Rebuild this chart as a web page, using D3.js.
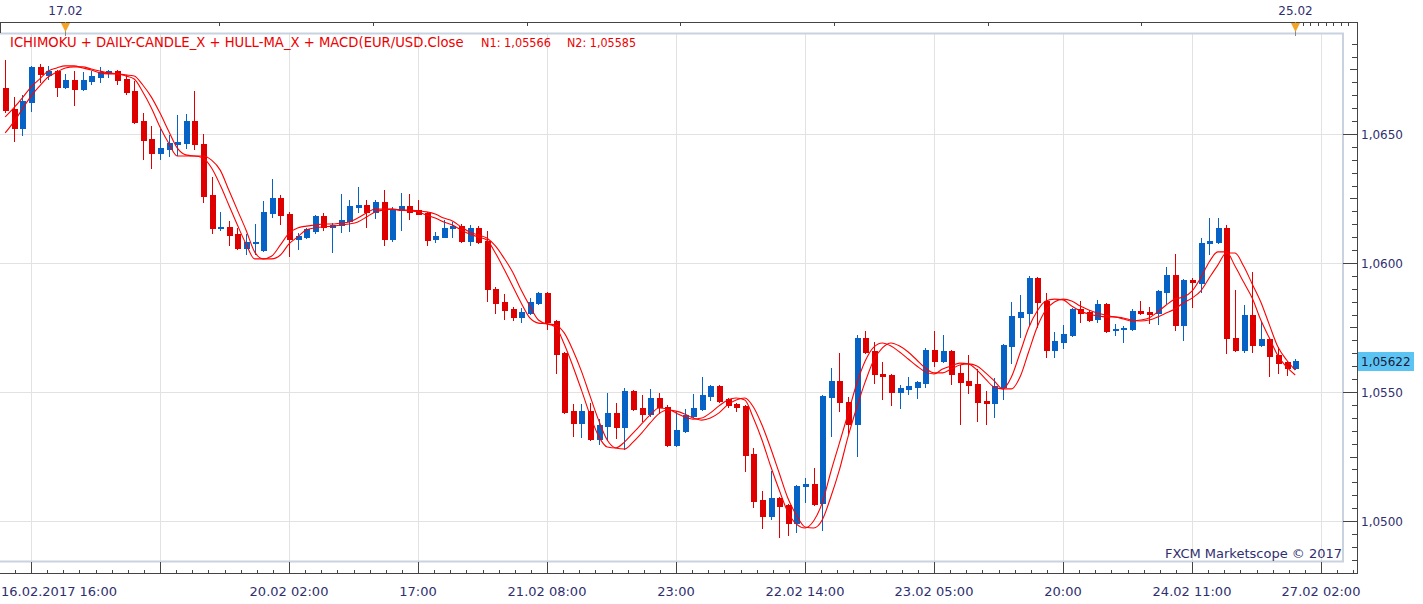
<!DOCTYPE html>
<html><head><meta charset="utf-8">
<script src="https://cdn.jsdelivr.net/npm/d3@7"></script>
<style>
body{margin:0;background:#fff;}
svg{display:block;font-family:"DejaVu Sans",Verdana,sans-serif;}
</style>
</head><body>
<svg id="c" width="1423" height="604"></svg>
<script>
// ---- data (EUR/USD hourly) ----
const open=[1.06678,1.06597,1.06523,1.06624,1.06760,1.06729,1.06744,1.06682,1.06709,1.06674,
1.06705,1.06721,1.06737,1.06744,1.06713,1.06667,1.06550,1.06481,1.06426,1.06442,
1.06461,1.06465,1.06550,1.06461,1.06264,1.06136,1.06140,1.06112,1.06058,1.06078,
1.06050,1.06194,1.06252,1.06190,1.06093,1.06101,1.06124,1.06182,1.06140,1.06147,
1.06163,1.06217,1.06225,1.06198,1.06236,1.06093,1.06205,1.06221,1.06205,1.06194,
1.06093,1.06101,1.06136,1.06143,1.06085,1.06136,1.06085,1.05899,1.05849,1.05822,
1.05791,1.05806,1.05845,1.05884,1.05775,1.05651,1.05426,1.05380,1.05426,1.05318,
1.05368,1.05419,1.05364,1.05504,1.05438,1.05415,1.05477,1.05442,1.05295,1.05349,
1.05407,1.05434,1.05485,1.05523,1.05473,1.05453,1.05446,1.05260,1.05081,1.05019,
1.05089,1.05062,1.04992,1.05136,1.05143,1.05070,1.05481,1.05543,1.05461,1.05376,
1.05709,1.05659,1.05570,1.05566,1.05500,1.05512,1.05519,1.05535,1.05663,1.05620,
1.05659,1.05574,1.05543,1.05531,1.05465,1.05457,1.05519,1.05678,1.05791,1.05806,
1.05942,1.05853,1.05663,1.05694,1.05721,1.05822,1.05810,1.05783,1.05841,1.05740,
1.05744,1.05744,1.05814,1.05810,1.05806,1.05888,1.05953,1.05760,1.05934,1.05922,
1.06078,1.06081,1.06136,1.05709,1.05663,1.05798,1.05682,1.05705,1.05643,1.05616,
1.05593];
const high=[1.06787,1.06643,1.06651,1.06764,1.06771,1.06764,1.06748,1.06733,1.06744,1.06740,
1.06744,1.06760,1.06748,1.06748,1.06729,1.06705,1.06581,1.06531,1.06519,1.06496,
1.06574,1.06578,1.06667,1.06500,1.06333,1.06198,1.06163,1.06136,1.06112,1.06151,
1.06240,1.06326,1.06264,1.06198,1.06116,1.06136,1.06186,1.06194,1.06155,1.06267,
1.06244,1.06295,1.06244,1.06244,1.06283,1.06217,1.06271,1.06267,1.06244,1.06198,
1.06120,1.06167,1.06159,1.06151,1.06147,1.06143,1.06124,1.05907,1.05880,1.05829,
1.05826,1.05864,1.05888,1.05888,1.05779,1.05655,1.05453,1.05453,1.05457,1.05395,
1.05496,1.05457,1.05516,1.05508,1.05488,1.05512,1.05496,1.05450,1.05426,1.05434,
1.05492,1.05558,1.05527,1.05527,1.05477,1.05457,1.05450,1.05283,1.05116,1.05194,
1.05093,1.05066,1.05140,1.05167,1.05205,1.05488,1.05593,1.05651,1.05481,1.05721,
1.05736,1.05694,1.05616,1.05570,1.05527,1.05558,1.05543,1.05671,1.05736,1.05721,
1.05663,1.05605,1.05643,1.05589,1.05504,1.05554,1.05686,1.05849,1.05876,1.05950,
1.05946,1.05884,1.05733,1.05760,1.05826,1.05853,1.05818,1.05857,1.05845,1.05764,
1.05756,1.05822,1.05853,1.05829,1.05895,1.05984,1.06035,1.05938,1.05942,1.06097,
1.06174,1.06174,1.06147,1.05895,1.05837,1.05965,1.05771,1.05709,1.05674,1.05620,
1.05628];
const low=[1.06585,1.06473,1.06496,1.06589,1.06702,1.06713,1.06647,1.06678,1.06612,1.06671,
1.06694,1.06702,1.06721,1.06694,1.06655,1.06543,1.06403,1.06368,1.06403,1.06415,
1.06419,1.06446,1.06442,1.06236,1.06116,1.06128,1.06070,1.06054,1.06035,1.06035,
1.06046,1.06178,1.06151,1.06027,1.06054,1.06097,1.06116,1.06128,1.06043,1.06120,
1.06124,1.06198,1.06140,1.06174,1.06070,1.06085,1.06128,1.06171,1.06190,1.06070,
1.06081,1.06101,1.06101,1.06081,1.06070,1.06078,1.05853,1.05806,1.05783,1.05779,
1.05771,1.05802,1.05841,1.05744,1.05574,1.05419,1.05329,1.05326,1.05314,1.05298,
1.05314,1.05322,1.05279,1.05430,1.05388,1.05407,1.05419,1.05291,1.05291,1.05345,
1.05403,1.05430,1.05469,1.05461,1.05442,1.05426,1.05194,1.05054,1.04973,1.05008,
1.04938,1.04946,1.04957,1.05074,1.05062,1.04965,1.05329,1.05426,1.05341,1.05252,
1.05651,1.05535,1.05473,1.05450,1.05438,1.05492,1.05477,1.05519,1.05601,1.05616,
1.05531,1.05376,1.05496,1.05388,1.05376,1.05403,1.05473,1.05612,1.05713,1.05760,
1.05752,1.05636,1.05636,1.05671,1.05717,1.05771,1.05775,1.05771,1.05733,1.05721,
1.05694,1.05740,1.05802,1.05767,1.05764,1.05845,1.05740,1.05702,1.05829,1.05888,
1.06035,1.06077,1.05651,1.05659,1.05655,1.05655,1.05678,1.05562,1.05574,1.05566,
1.05589];
const close=[1.06593,1.06523,1.06628,1.06760,1.06733,1.06744,1.06682,1.06709,1.06674,1.06709,
1.06725,1.06740,1.06744,1.06709,1.06663,1.06547,1.06477,1.06426,1.06446,1.06465,
1.06469,1.06550,1.06461,1.06260,1.06136,1.06140,1.06109,1.06058,1.06081,1.06081,
1.06198,1.06252,1.06186,1.06093,1.06105,1.06132,1.06182,1.06140,1.06147,1.06167,
1.06221,1.06225,1.06198,1.06236,1.06093,1.06209,1.06221,1.06198,1.06190,1.06089,
1.06105,1.06136,1.06143,1.06085,1.06136,1.06081,1.05899,1.05845,1.05818,1.05791,
1.05810,1.05849,1.05884,1.05771,1.05647,1.05422,1.05380,1.05426,1.05318,1.05372,
1.05419,1.05364,1.05504,1.05434,1.05415,1.05477,1.05442,1.05295,1.05353,1.05411,
1.05438,1.05488,1.05523,1.05465,1.05450,1.05442,1.05256,1.05078,1.05019,1.05089,
1.05058,1.04992,1.05136,1.05143,1.05066,1.05485,1.05543,1.05461,1.05376,1.05709,
1.05655,1.05570,1.05562,1.05500,1.05516,1.05523,1.05539,1.05663,1.05620,1.05659,
1.05570,1.05539,1.05527,1.05461,1.05457,1.05523,1.05682,1.05795,1.05810,1.05942,
1.05849,1.05663,1.05698,1.05725,1.05822,1.05806,1.05779,1.05841,1.05736,1.05744,
1.05748,1.05814,1.05806,1.05802,1.05891,1.05953,1.05760,1.05934,1.05926,1.06078,
1.06085,1.06136,1.05709,1.05663,1.05798,1.05682,1.05705,1.05640,1.05612,1.05593,
1.05622];
// Hull MA lines
const hullN1=[1.06566,1.06601,1.06640,1.06682,1.06713,1.06744,1.06756,1.06764,1.06764,1.06756,
1.06748,1.06737,1.06733,1.06733,1.06725,1.06713,1.06663,1.06601,1.06527,1.06465,
1.06415,1.06415,1.06415,1.06407,1.06368,1.06302,1.06225,1.06147,1.06074,1.06016,
1.06016,1.06027,1.06070,1.06116,1.06136,1.06143,1.06147,1.06151,1.06151,1.06155,
1.06159,1.06174,1.06194,1.06209,1.06209,1.06209,1.06205,1.06202,1.06198,1.06186,
1.06174,1.06159,1.06147,1.06128,1.06112,1.06101,1.06089,1.06039,1.05977,1.05911,
1.05845,1.05787,1.05767,1.05764,1.05752,1.05686,1.05601,1.05508,1.05411,1.05329,
1.05287,1.05283,1.05306,1.05341,1.05376,1.05411,1.05438,1.05434,1.05419,1.05403,
1.05395,1.05399,1.05419,1.05446,1.05469,1.05477,1.05469,1.05399,1.05314,1.05213,
1.05120,1.05035,1.04988,1.04973,1.05000,1.05070,1.05190,1.05302,1.05415,1.05531,
1.05620,1.05674,1.05690,1.05678,1.05655,1.05628,1.05601,1.05578,1.05570,1.05589,
1.05601,1.05612,1.05609,1.05585,1.05550,1.05519,1.05512,1.05558,1.05651,1.05748,
1.05814,1.05853,1.05860,1.05857,1.05833,1.05814,1.05802,1.05795,1.05791,1.05791,
1.05783,1.05775,1.05779,1.05787,1.05810,1.05837,1.05860,1.05868,1.05891,1.05942,
1.06004,1.06043,1.06043,1.05988,1.05926,1.05864,1.05779,1.05709,1.05640,1.05597,
1.05566];
const hullN2=[1.06504,1.06547,1.06597,1.06647,1.06686,1.06721,1.06740,1.06756,1.06760,1.06760,
1.06752,1.06744,1.06737,1.06733,1.06729,1.06725,1.06690,1.06643,1.06581,1.06512,
1.06446,1.06419,1.06415,1.06415,1.06399,1.06360,1.06283,1.06205,1.06128,1.06043,
1.06016,1.06016,1.06031,1.06074,1.06101,1.06128,1.06136,1.06140,1.06143,1.06147,
1.06151,1.06159,1.06178,1.06198,1.06205,1.06209,1.06205,1.06205,1.06202,1.06198,
1.06190,1.06174,1.06163,1.06140,1.06120,1.06109,1.06097,1.06066,1.06019,1.05965,
1.05895,1.05833,1.05779,1.05764,1.05760,1.05729,1.05663,1.05581,1.05485,1.05391,
1.05314,1.05283,1.05279,1.05306,1.05341,1.05380,1.05415,1.05430,1.05426,1.05415,
1.05399,1.05391,1.05399,1.05419,1.05450,1.05469,1.05477,1.05442,1.05372,1.05283,
1.05186,1.05089,1.05023,1.04977,1.04973,1.05004,1.05093,1.05198,1.05326,1.05438,
1.05539,1.05624,1.05671,1.05690,1.05678,1.05655,1.05624,1.05593,1.05574,1.05574,
1.05589,1.05605,1.05609,1.05601,1.05574,1.05543,1.05512,1.05512,1.05558,1.05655,
1.05752,1.05818,1.05849,1.05860,1.05853,1.05833,1.05818,1.05806,1.05798,1.05791,
1.05787,1.05779,1.05775,1.05779,1.05791,1.05806,1.05822,1.05845,1.05864,1.05891,
1.05942,1.05992,1.06039,1.06039,1.05988,1.05919,1.05849,1.05760,1.05674,1.05624,
1.05585];
const xTickIndex=[3,18,33,48,63,78,93,108,123,138,153];
const xTickLabels=["16.02.2017 16:00","","20.02 02:00","17:00","21.02 08:00","23:00","22.02 14:00","23.02 05:00","20:00","24.02 11:00","27.02 02:00"];
const yTickValues=[1.0500,1.0550,1.0600,1.0650];
const yTickLabels=["1,0500","1,0550","1,0600","1,0650"];
const topMarkerIndex=[7,150];
const topMarkerLabels=["17.02","25.02"];
const lastPriceLabel="1,05622";
const titleText="ICHIMOKU + DAILY-CANDLE_X + HULL-MA_X + MACD(EUR/USD.Close";
const n1Text="N1: 1,05566";
const n2Text="N2: 1,05585";
const creditText="FXCM Marketscope © 2017";

// ---- layout ----
const svg=d3.select("#c");
const frame={left:0,top:34,right:1343,bottom:562};
const axisX=1357, axisTopY=22, axisBottomY=573;
const x=d3.scaleLinear().domain([0,150]).range([5.2,1295.2]);
const y=d3.scaleLinear().domain([1.0500,1.0650]).range([521,134]);
const labelColor="#2f2f6f", upColor="#0662c4", downColor="#de0000";

svg.append("rect").attr("width",1423).attr("height",604).attr("fill","#fff");

// grid
const g=svg.append("g");
xTickIndex.forEach(i=>{
  const xx=Math.round(x(i))+0.5;
  g.append("line").attr("x1",xx).attr("x2",xx).attr("y1",frame.top).attr("y2",frame.bottom).attr("stroke","#e2e2e2");
});
yTickValues.forEach(v=>{
  const yy=Math.round(y(v))+0.5;
  g.append("line").attr("x1",frame.left).attr("x2",frame.right).attr("y1",yy).attr("y2",yy).attr("stroke","#e2e2e2");
});

// frame
svg.append("rect").attr("x",frame.left-1).attr("y",frame.top-0.5).attr("width",frame.right-frame.left+1).attr("height",frame.bottom-frame.top)
  .attr("fill","none").attr("stroke","#c9d3e0").attr("stroke-width",2);

// clip
svg.append("clipPath").attr("id","clip").append("rect").attr("x",frame.left).attr("y",frame.top).attr("width",frame.right-frame.left-1).attr("height",frame.bottom-frame.top-1);
const plot=svg.append("g").attr("clip-path","url(#clip)");

// candles
const idx=d3.range(open.length);
const bw=6;
const cg=plot.append("g");
idx.forEach(i=>{
  const up=close[i]>=open[i];
  const col=up?upColor:downColor;
  const cx=Math.round(x(i));
  cg.append("line").attr("x1",cx+0.5).attr("x2",cx+0.5).attr("y1",Math.round(y(high[i]))).attr("y2",Math.round(y(low[i]))+1)
    .attr("stroke",col).attr("stroke-width",1);
  const yt=Math.round(y(Math.max(open[i],close[i])));
  const yb=Math.round(y(Math.min(open[i],close[i])));
  cg.append("rect").attr("x",cx-2).attr("y",yt).attr("width",bw).attr("height",Math.max(2,yb-yt+1)).attr("fill",col);
});

// hull lines
const line=d3.line().x((d,i)=>x(i)).y(d=>y(d)).curve(d3.curveMonotoneX);
[hullN2,hullN1].forEach(arr=>{
  plot.append("path").datum(arr).attr("d",line).attr("fill","none").attr("stroke","#ff0000").attr("stroke-width",1.1);
});

// header
svg.append("text").attr("x",10).attr("y",47).attr("fill","#ee0000").attr("font-size",13.2).text(titleText);
svg.append("text").attr("x",481).attr("y",47).attr("fill","#ee0000").attr("font-size",12.8)
  .attr("textLength",70).attr("lengthAdjust","spacingAndGlyphs").text(n1Text);
svg.append("text").attr("x",567).attr("y",47).attr("fill","#ee0000").attr("font-size",12.8)
  .attr("textLength",69).attr("lengthAdjust","spacingAndGlyphs").text(n2Text);

// credit
svg.append("text").attr("x",frame.right-1).attr("y",558).attr("text-anchor","end").attr("fill",labelColor).attr("font-size",13).text(creditText);

// axes lines
const ax=svg.append("g").attr("stroke","#444").attr("stroke-width",1);
ax.append("line").attr("x1",0).attr("x2",axisX+0.5).attr("y1",axisTopY+0.5).attr("y2",axisTopY+0.5);
ax.append("line").attr("x1",0.5).attr("x2",0.5).attr("y1",axisTopY).attr("y2",frame.top-1);
ax.append("line").attr("x1",axisX+0.5).attr("x2",axisX+0.5).attr("y1",axisTopY).attr("y2",axisBottomY+1);
ax.append("line").attr("x1",0).attr("x2",axisX+1).attr("y1",axisBottomY+0.5).attr("y2",axisBottomY+0.5);

// bottom ticks
const step=(x(xTickIndex[1])-x(xTickIndex[0]))/8;
xTickIndex.forEach((i,k)=>{
  const xx=Math.round(x(i))+0.5;
  ax.append("line").attr("x1",xx).attr("x2",xx).attr("y1",frame.bottom).attr("y2",axisBottomY);
  for(let m=1;m<8;m++){
    const mx=Math.round(x(i)+m*step)+0.5;
    if(mx<axisX) ax.append("line").attr("x1",mx).attr("x2",mx).attr("y1",axisBottomY-3).attr("y2",axisBottomY);
  }
  if(k===0){const mx=Math.round(x(i)-step)+0.5; ax.append("line").attr("x1",mx).attr("x2",mx).attr("y1",axisBottomY-3).attr("y2",axisBottomY);}
  const lab=xTickLabels[k];
  if(lab){
    svg.append("text").attr("x",k===0?1:x(i)).attr("y",596).attr("text-anchor",k===0?"start":"middle")
      .attr("fill",labelColor).attr("font-size",13).text(lab);
  }
});

// right ticks
const yMinor=d3.range(Math.round(1.0480/0.0005),Math.round(1.0700/0.0005)+1).map(v=>v*0.0005);
yMinor.forEach(v=>{
  const yy=Math.round(y(v))+0.5;
  if(yy<40||yy>axisBottomY) return;
  const k=Math.round(v/0.0005);
  const isMajor=k%10===0, isMid=k%5===0;
  const len=isMajor?14:(isMid?7:5);
  ax.append("line").attr("x1",axisX-len).attr("x2",axisX).attr("y1",yy).attr("y2",yy);
});
yTickValues.forEach((v,k)=>{
  svg.append("text").attr("x",axisX+4).attr("y",y(v)+5).attr("fill",labelColor).attr("font-size",12).text(yTickLabels[k]);
});

// last price label
const ly=y(close[close.length-1]);
svg.append("rect").attr("x",axisX+1).attr("y",Math.round(ly)-9).attr("width",56).attr("height",19).attr("fill","#5cc4f2");
svg.append("text").attr("x",axisX+4).attr("y",ly+5).attr("fill","#1a1a3a").attr("font-size",12).text(lastPriceLabel);

// top axis ticks & markers
const tx0=x(topMarkerIndex[0]), tx1=x(topMarkerIndex[1]);
const tstep=(tx1-tx0)/8;
for(let k=1;k<8;k++){
  const xx=Math.round(tx0+k*tstep)+0.5;
  ax.append("line").attr("x1",xx).attr("x2",xx).attr("y1",axisTopY).attr("y2",axisTopY+4);
}
for(let k=1;k*7.6+tx1<axisX-2;k++){
  const xx=Math.round(tx1+k*7.6)+0.5;
  ax.append("line").attr("x1",xx).attr("x2",xx).attr("y1",axisTopY).attr("y2",axisTopY+4);
}
topMarkerIndex.forEach((i,k)=>{
  const xx=Math.round(x(i))+0.5;
  svg.append("line").attr("x1",xx).attr("x2",xx).attr("y1",axisTopY).attr("y2",frame.top+2).attr("stroke","#888");
  svg.append("path").attr("d",`M${xx-4.5},${axisTopY+1}L${xx+4.5},${axisTopY+1}L${xx},${axisTopY+10}Z`).attr("fill","#f4a425");
  svg.append("text").attr("x",xx).attr("y",15).attr("text-anchor","middle").attr("fill",labelColor).attr("font-size",12).text(topMarkerLabels[k]);
});
</script>
</body></html>
